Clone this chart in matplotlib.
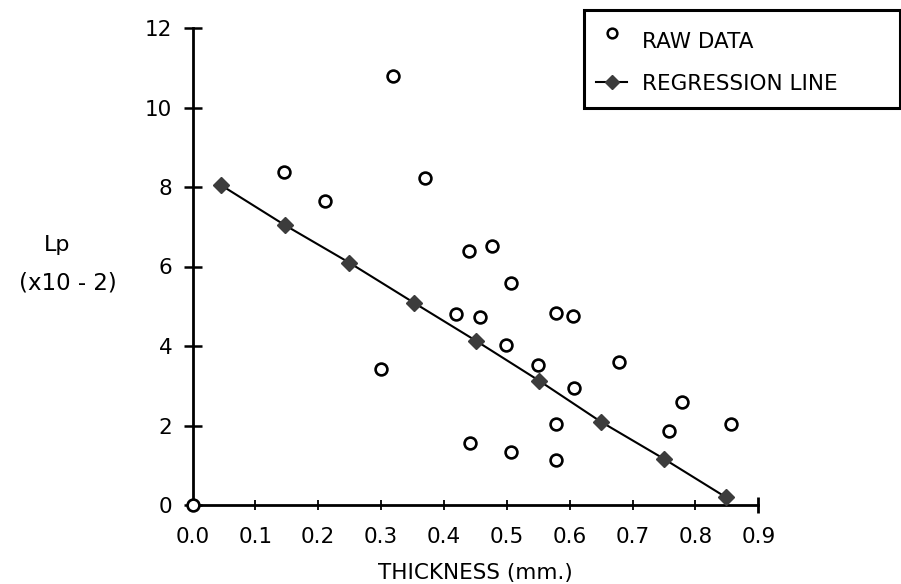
import matplotlib
matplotlib.use("Agg")
import matplotlib.pyplot as plt
from matplotlib.lines import Line2D
from matplotlib.patches import Rectangle

# ---- data ----
raw_x = [0.000, 0.146, 0.210, 0.300, 0.319, 0.370, 0.419, 0.440, 0.442, 0.457,
         0.477, 0.498, 0.506, 0.507, 0.550, 0.578, 0.605, 0.578, 0.578, 0.607,
         0.678, 0.758, 0.778, 0.857]
raw_y = [0.00, 8.38, 7.65, 3.41, 10.80, 8.23, 4.80, 6.39, 1.57, 4.72,
         6.52, 4.03, 5.58, 1.33, 3.52, 4.83, 4.75, 2.04, 1.13, 2.95,
         3.59, 1.86, 2.58, 2.03]

reg_x = [0.045, 0.147, 0.249, 0.352, 0.451, 0.551, 0.649, 0.750, 0.849]
reg_y = [8.05, 7.04, 6.10, 5.09, 4.13, 3.13, 2.10, 1.16, 0.19]

x_ticks = [0.0, 0.1, 0.2, 0.3, 0.4, 0.5, 0.6, 0.7, 0.8, 0.9]
x_tick_labels = ["0.0", "0.1", "0.2", "0.3", "0.4", "0.5", "0.6", "0.7", "0.8", "0.9"]
y_ticks = [0, 2, 4, 6, 8, 10, 12]
y_tick_labels = ["0", "2", "4", "6", "8", "10", "12"]

x_label = "THICKNESS (mm.)"
y_label_top = "Lp"
y_label_bottom = "(x10 - 2)"
legend_labels = ["RAW DATA", "REGRESSION LINE"]

# ---- figure ----
W, H = 901, 584
fig = plt.figure(figsize=(W / 100, H / 100), dpi=100)
plt.rcParams['font.family'] = ['DejaVu Sans']

ax_l, ax_r, ax_b, ax_t = 192.5, 758.3, 505.0, 28.0
ax = fig.add_axes([ax_l / W, 1 - ax_b / H, (ax_r - ax_l) / W, (ax_b - ax_t) / H])

ax.set_xlim(0, 0.9)
ax.set_ylim(0, 12)
for s in ["top", "right"]:
    ax.spines[s].set_visible(False)
ax.spines["left"].set_linewidth(2.0)
ax.spines["bottom"].set_linewidth(2.0)

ax.set_xticks(x_ticks)
ax.set_xticklabels(x_tick_labels, fontsize=15.5)
ax.set_yticks(y_ticks)
ax.set_yticklabels(y_tick_labels, fontsize=15.5)
ax.tick_params(axis="y", direction="inout", length=13, width=1.8, pad=8)
ax.tick_params(axis="x", direction="inout", length=7, width=1.3, pad=12)
last = ax.xaxis.get_major_ticks()[-1]
last.tick1line.set_markersize(12)
last.tick1line.set_markeredgewidth(2)

# regression line
ax.plot(reg_x, reg_y, color="black", lw=1.5, zorder=2, clip_on=False)
ax.plot(reg_x, reg_y, linestyle="none", marker="D", markersize=8.5,
        markerfacecolor="#3c3c3c", markeredgecolor="#3c3c3c", zorder=3, clip_on=False)

# raw data
ax.plot(raw_x, raw_y, linestyle="none", marker="o", markersize=8.5,
        markerfacecolor="white", markeredgecolor="black", markeredgewidth=1.9,
        zorder=4, clip_on=False)

ax.set_xlabel(x_label, fontsize=15.5, labelpad=12)

# y label (two lines, horizontal)
fig.text(57 / W, 1 - 245 / H, y_label_top, fontsize=16, ha="center", va="center")
fig.text(68 / W, 1 - 283 / H, y_label_bottom, fontsize=16.5, ha="center", va="center")

# legend box (manual)
fig.add_artist(Rectangle((584 / W, 1 - 108 / H), (900 - 584) / W, 98 / H,
                         transform=fig.transFigure, fill=False, lw=2.2, edgecolor="black"))
fig.add_artist(Line2D([611.7 / W], [1 - 33 / H], marker="o", markersize=7,
                      markerfacecolor="white", markeredgecolor="black", markeredgewidth=1.8,
                      linestyle="none", transform=fig.transFigure))
fig.add_artist(Line2D([596 / W, 627 / W], [1 - 82 / H, 1 - 82 / H], color="black", lw=1.5,
                      transform=fig.transFigure))
fig.add_artist(Line2D([611.7 / W], [1 - 82 / H], marker="D", markersize=7,
                      markerfacecolor="#3c3c3c", markeredgecolor="#3c3c3c",
                      linestyle="none", transform=fig.transFigure))
fig.text(641.7 / W, 1 - 42 / H, legend_labels[0], fontsize=15.5, ha="left", va="center")
fig.text(641.7 / W, 1 - 84 / H, legend_labels[1], fontsize=15.5, ha="left", va="center")

fig.savefig("out.png", dpi=100)
